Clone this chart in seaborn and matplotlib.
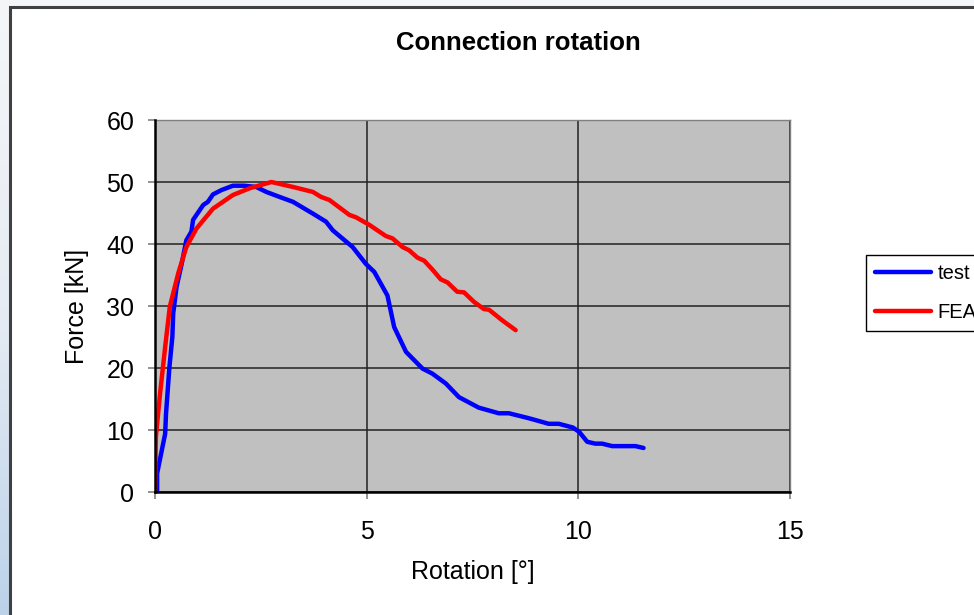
import numpy as np
import pandas as pd
import seaborn as sns
import matplotlib.pyplot as plt
from matplotlib.patches import Rectangle

# data
test_rot = [0.05, 0.05, 0.24, 0.26, 0.34, 0.41, 0.43, 0.51, 0.63, 0.74, 0.86, 0.90,
            1.14, 1.25, 1.37, 1.57, 1.84, 2.10, 2.39, 2.63, 2.94, 3.26, 3.73, 4.04,
            4.20, 4.67, 4.98, 5.18, 5.49, 5.65, 5.93, 6.32, 6.55, 6.87, 7.18, 7.65,
            8.12, 8.36, 8.83, 9.30, 9.54, 9.87, 10.02, 10.21, 10.40, 10.56, 10.80,
            11.35, 11.54]
test_force = [0, 3, 9.4, 12.6, 20.1, 25, 28.8, 33.1, 36.8, 40.6, 42, 43.9,
              46.3, 46.8, 48, 48.7, 49.4, 49.4, 49.2, 48.4, 47.6, 46.8, 44.9, 43.6,
              42.2, 39.5, 36.8, 35.5, 31.7, 26.6, 22.6, 19.9, 19.1, 17.5, 15.3, 13.6,
              12.7, 12.7, 11.9, 11.0, 11.0, 10.4, 9.7, 8.1, 7.8, 7.8, 7.4,
              7.4, 7.1]

fea_rot = [0, 0.02, 0.12, 0.24, 0.35, 0.55, 0.74, 0.98, 1.37, 1.84, 2.24, 2.75,
           2.94, 3.26, 3.73, 3.92, 4.12, 4.59, 4.75, 5.06, 5.45, 5.61, 5.85, 6.0,
           6.2, 6.36, 6.55, 6.75, 6.91, 7.14, 7.3, 7.53, 7.77, 7.89, 8.2, 8.52]
fea_force = [0, 8.9, 15.9, 23.4, 29.9, 35.3, 39.5, 42.5, 45.7, 47.9, 49, 50,
             49.7, 49.2, 48.4, 47.6, 47.1, 44.7, 44.3, 43.1, 41.3, 40.9, 39.5, 39.0,
             37.8, 37.3, 35.9, 34.3, 33.8, 32.3, 32.2, 30.7, 29.5, 29.4, 27.7, 26.1]

x_ticks = [0, 5, 10, 15]
y_ticks = [0, 10, 20, 30, 40, 50, 60]

df = pd.concat([
    pd.DataFrame({"rot": test_rot, "force": test_force, "series": "test"}),
    pd.DataFrame({"rot": fea_rot, "force": fea_force, "series": "FEA"}),
])

sns.set_style("ticks")
plt.rcParams["font.family"] = ["Liberation Sans", "DejaVu Sans"]
plt.rcParams["text.color"] = "black"
plt.rcParams["axes.labelcolor"] = "black"

fig = plt.figure(figsize=(9.74, 6.15), dpi=100)

# slide background + chart frame
bg = fig.add_axes([0, 0, 1, 1], zorder=-10)
grad = np.linspace(0, 1, 256).reshape(-1, 1)
bg.imshow(grad, extent=[0, 1, 0, 1], aspect="auto", origin="upper",
          cmap=sns.blend_palette(["#f5f6f8", "#e6ecf4", "#bcd2e9"], as_cmap=True))
bg.add_patch(Rectangle((10 / 974, -0.1), 1.2, 1.1 - 7 / 615, transform=bg.transAxes,
                       facecolor="white", edgecolor="#404040", lw=2.2))
bg.set_xlim(0, 1)
bg.set_ylim(0, 1)
bg.axis("off")

ax = fig.add_axes([155 / 974, 1 - 492 / 615, 635 / 974, 372 / 615])
ax.set_facecolor("#c0c0c0")

sns.lineplot(
    data=df, x="rot", y="force", hue="series",
    palette={"test": "#0000ff", "FEA": "#ff0000"},
    sort=False, estimator=None, linewidth=3.2, ax=ax, legend=False,
    solid_joinstyle="round", solid_capstyle="round",
)

ax.set_xlim(0, 15)
ax.set_ylim(0, 60)
ax.set_xticks(x_ticks)
ax.set_yticks(y_ticks)
ax.grid(True, color="#222222", lw=1.1)
ax.set_axisbelow(True)
for s in ["top", "right"]:
    ax.spines[s].set_color("#808080")
    ax.spines[s].set_linewidth(1)
for s in ["left", "bottom"]:
    ax.spines[s].set_color("black")
    ax.spines[s].set_linewidth(1.8)
    ax.spines[s].set_zorder(5)
ax.tick_params(axis="both", direction="out", length=5, width=1.2, color="#808080",
               labelsize=18, labelcolor="black")
ax.tick_params(axis="x", pad=15)
ax.tick_params(axis="y", pad=10)
ax.set_xlabel("Rotation [°]", fontsize=18, labelpad=12)
ax.set_ylabel("Force [kN]", fontsize=18, labelpad=12)

fig.text(518 / 974, 1 - 43 / 615, "Connection rotation", ha="center", va="center",
         fontsize=18.5, fontweight="bold", color="black")

handles = [plt.Line2D([], [], color="#0000ff", lw=3.2, solid_capstyle="round"),
           plt.Line2D([], [], color="#ff0000", lw=3.2, solid_capstyle="round")]
leg = fig.legend(handles, ["test", "FEA"], loc="upper left",
                 bbox_to_anchor=(866 / 974, 1 - 255 / 615), fontsize=14.5,
                 frameon=True, fancybox=False, edgecolor="black", framealpha=1,
                 handlelength=2.8, handletextpad=0.3, labelspacing=1.0,
                 borderpad=0.45, borderaxespad=0)
leg.get_frame().set_linewidth(1)

fig.savefig("out.png", dpi=100)
